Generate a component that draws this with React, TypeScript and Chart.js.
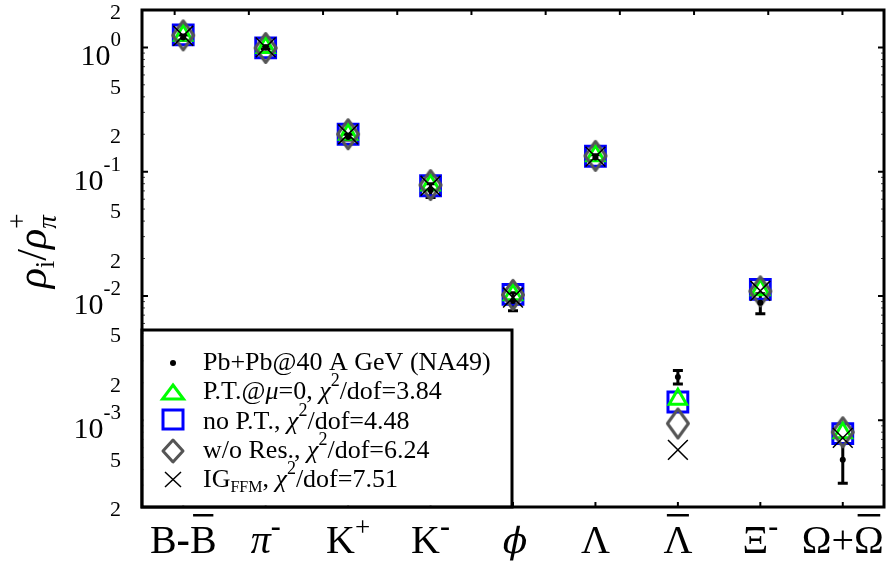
import React, { useEffect, useRef } from 'react';
import { Chart, registerables } from 'chart.js';

Chart.register(...registerables);

// ---- data ----
const CATEGORIES = ['B-B\u0304', '\u03C0\u207B', 'K\u207A', 'K\u207B', '\u03D5', '\u039B', '\u039B\u0304', '\u039E\u207B', '\u03A9+\u03A9\u0304'];
const NA49 = [1.2, 1.0, 0.19, 0.071, 0.0091, 0.13, 0.00223, 0.0088, 0.00048];
const NA49_ERR = [0.06, 0.03, 0.01, 0.009, 0.0015, 0.007, 0.00028, 0.0016, 0.00017];
const PT_MU0 = [1.25, 1.0, 0.2, 0.078, 0.0102, 0.134, 0.00147, 0.0112, 0.00079];
const NO_PT = [1.26, 0.99, 0.2, 0.077, 0.0103, 0.133, 0.0014, 0.0113, 0.00078];
const WO_RES = [1.25, 0.99, 0.2, 0.078, 0.0102, 0.134, 0.00094, 0.0109, 0.0008];
const IG_FFM = [1.24, 1.0, 0.2, 0.077, 0.0097, 0.132, 0.000577, 0.011, 0.00072];

const Y_MIN = 2e-4;
const Y_MAX = 2;
const Y_TICKS = [2e-4, 5e-4, 1e-3, 2e-3, 5e-3, 1e-2, 2e-2, 5e-2, 0.1, 0.2, 0.5, 1, 2];
const TOP_TICKS = [0.44, 1.44, 2.44, 3.44, 4.44, 5.44, 6.44, 7.44, 8.44, 9.44];

type Seg = { t: string; s?: 'i' | 'sup' | 'sub' };
const LEGEND_ROWS: Seg[][] = [
  [{ t: 'Pb+Pb@40 A GeV (NA49)' }],
  [{ t: 'P.T.@' }, { t: '\u03BC', s: 'i' }, { t: '=0, ' }, { t: '\u03C7', s: 'i' }, { t: '2', s: 'sup' }, { t: '/dof=3.84' }],
  [{ t: 'no P.T., ' }, { t: '\u03C7', s: 'i' }, { t: '2', s: 'sup' }, { t: '/dof=4.48' }],
  [{ t: 'w/o Res., ' }, { t: '\u03C7', s: 'i' }, { t: '2', s: 'sup' }, { t: '/dof=6.24' }],
  [{ t: 'IG' }, { t: 'FFM', s: 'sub' }, { t: ', ' }, { t: '\u03C7', s: 'i' }, { t: '2', s: 'sup' }, { t: '/dof=7.51' }],
];

const GREEN = '#00ff00';
const BLUE = '#0000ff';
const GREY = '#555555';
const FONT = '"Liberation Serif", "DejaVu Serif", serif';

function drawRich(ctx: CanvasRenderingContext2D, segs: Seg[], x: number, y: number, size: number): number {
  let cx = x;
  for (const seg of segs) {
    let f = `${size}px ${FONT}`;
    let dy = 0;
    if (seg.s === 'i') f = `italic ${size}px ${FONT}`;
    if (seg.s === 'sup') { f = `${Math.round(size * 0.68)}px ${FONT}`; dy = -size * 0.5; }
    if (seg.s === 'sub') { f = `${Math.round(size * 0.62)}px ${FONT}`; dy = size * 0.22; }
    ctx.font = f;
    ctx.fillText(seg.t, cx, y + dy);
    cx += ctx.measureText(seg.t).width;
  }
  return cx - x;
}

// draw a category label: handles combining macron (overline) and superscript +/-
function drawCatLabel(ctx: CanvasRenderingContext2D, label: string, cx: number, baseline: number) {
  const units: { ch: string; sup: boolean; over: boolean; skew: boolean; font: string; w: number }[] = [];
  const chars = Array.from(label);
  for (let i = 0; i < chars.length; i++) {
    const c = chars[i];
    if (c === '\u0304') { if (units.length) units[units.length - 1].over = true; continue; }
    let ch = c, sup = false;
    if (c === '\u207A') { ch = '+'; sup = true; }
    if (c === '\u207B') { ch = '-'; sup = true; }
    let font = `40px ${FONT}`;
    if (sup) font = ch === '-' ? `bold 30px ${FONT}` : `27px ${FONT}`;
    else if (ch === '\u03C0') font = `italic 40px ${FONT}`;
    else if (ch === '\u03D5') font = `36px "DejaVu Serif", serif`;
    else if (ch === '-') font = `bold 40px ${FONT}`;
    ctx.font = font;
    units.push({ ch, sup, over: false, skew: ch === '\u03D5', font, w: ctx.measureText(ch).width });
  }
  const total = units.reduce((a, u) => a + u.w, 0);
  let x = cx - total / 2;
  ctx.textAlign = 'left';
  ctx.textBaseline = 'alphabetic';
  for (const u of units) {
    ctx.font = u.font;
    const by = u.sup ? baseline - 17 : baseline;
    if (u.skew) {
      ctx.save();
      ctx.translate(x, by);
      ctx.transform(1, 0, -0.2, 1, 0, 0);
      ctx.fillText(u.ch, 0, 0);
      ctx.restore();
    } else {
      ctx.fillText(u.ch, x, by);
    }
    if (u.over) {
      ctx.fillRect(x + u.w * 0.12, baseline - 39, u.w * 0.76, 2.5);
    }
    x += u.w;
  }
}

const framePlugin = {
  id: 'frame',
  beforeDatasetsDraw(chart: any) {
    const ctx: CanvasRenderingContext2D = chart.ctx;
    const x = chart.scales.x;
    const y = chart.scales.y;
    ctx.save();
    ctx.strokeStyle = '#000';
    ctx.lineWidth = 3;
    NA49.forEach((v, i) => {
      const px = x.getPixelForValue(i);
      const lo = y.getPixelForValue(v - NA49_ERR[i]);
      const hi = y.getPixelForValue(v + NA49_ERR[i]);
      ctx.beginPath();
      ctx.moveTo(px, lo); ctx.lineTo(px, hi);
      ctx.moveTo(px - 5, lo); ctx.lineTo(px + 5, lo);
      ctx.moveTo(px - 5, hi); ctx.lineTo(px + 5, hi);
      ctx.stroke();
    });
    ctx.restore();
  },
  afterDraw(chart: any) {
    const ctx: CanvasRenderingContext2D = chart.ctx;
    const { left, right, top, bottom } = chart.chartArea;
    const x = chart.scales.x;
    const xt = chart.scales.xTop;
    const y = chart.scales.y;
    ctx.save();
    // minor ticks (log)
    ctx.strokeStyle = '#444';
    ctx.lineWidth = 1;
    for (let e = -4; e <= 0; e++) {
      for (let m = 2; m <= 9; m++) {
        const v = m * Math.pow(10, e);
        if (v < Y_MIN || v > Y_MAX) continue;
        const py = y.getPixelForValue(v);
        ctx.beginPath();
        ctx.moveTo(left, py); ctx.lineTo(left + 3, py);
        ctx.moveTo(right, py); ctx.lineTo(right - 3, py);
        ctx.stroke();
      }
    }
    ctx.strokeStyle = '#000';
    ctx.lineWidth = 2;
    for (const t of y.ticks) {
      const ex = Math.log10(t.value);
      if (Math.abs(ex - Math.round(ex)) > 1e-6) continue;
      const py = y.getPixelForValue(t.value);
      ctx.beginPath();
      ctx.moveTo(left, py); ctx.lineTo(left + 6, py);
      ctx.moveTo(right, py); ctx.lineTo(right - 6, py);
      ctx.stroke();
    }
    for (let i = 0; i < CATEGORIES.length; i++) {
      const px = x.getPixelForValue(i);
      ctx.beginPath(); ctx.moveTo(px, bottom); ctx.lineTo(px, bottom - 5); ctx.stroke();
    }
    for (const t of xt.ticks) {
      const px = xt.getPixelForValue(t.value);
      ctx.beginPath(); ctx.moveTo(px, top); ctx.lineTo(px, top + 5); ctx.stroke();
    }
    // frame
    ctx.lineWidth = 3;
    ctx.strokeRect(left, top, right - left, bottom - top);

    ctx.fillStyle = '#000';
    // x tick labels
    CATEGORIES.forEach((lab, i) => drawCatLabel(ctx, lab, x.getPixelForValue(i), bottom + 46));

    // y tick labels
    ctx.textBaseline = 'alphabetic';
    ctx.textAlign = 'left';
    for (const t of y.ticks) {
      const py = y.getPixelForValue(t.value);
      const ex = Math.log10(t.value);
      const rx = 121;
      if (Math.abs(ex - Math.round(ex)) < 1e-6) {
        const n = Math.round(ex);
        const exTxt = n === 0 ? '0' : '-' + String(-n);
        ctx.font = `30px ${FONT}`;
        const w1 = ctx.measureText('10').width;
        ctx.font = `21px ${FONT}`;
        const w2 = ctx.measureText(exTxt).width;
        const x0 = rx - w1 - w2;
        ctx.font = `30px ${FONT}`;
        ctx.fillText('10', x0, py + 18);
        ctx.font = `21px ${FONT}`;
        ctx.fillText(exTxt, x0 + w1, py - 1);
      } else {
        const m = Math.round(t.value / Math.pow(10, Math.floor(ex + 1e-9)));
        ctx.font = `22px ${FONT}`;
        ctx.textAlign = 'right';
        ctx.fillText(String(m), rx, py + 9);
        ctx.textAlign = 'left';
      }
    }

    // y axis title  rho_i / rho_pi^+
    ctx.save();
    ctx.translate(46, 251);
    ctx.rotate(-Math.PI / 2);
    const big = 42, small = 27;
    const parts: { t: string; f: string; dy: number; stack?: boolean }[] = [
      { t: '\u03C1', f: `italic ${big}px ${FONT}`, dy: 0 },
      { t: 'i', f: `${small}px ${FONT}`, dy: 8 },
      { t: '/', f: `${big}px ${FONT}`, dy: 0 },
      { t: '\u03C1', f: `italic ${big}px ${FONT}`, dy: 0 },
      { t: '\u03C0', f: `italic ${small}px ${FONT}`, dy: 10, stack: true },
      { t: '+', f: `${small}px ${FONT}`, dy: -20 },
    ];
    let total = 0;
    let prevW = 0;
    for (const p of parts) {
      ctx.font = p.f;
      const w = ctx.measureText(p.t).width;
      if (p.stack) { prevW = w; } else { total += Math.max(w, prevW); prevW = 0; }
    }
    let cx = -total / 2;
    let stackX = 0, stackW = 0;
    for (const p of parts) {
      ctx.font = p.f;
      const w = ctx.measureText(p.t).width;
      if (p.stack) { stackX = cx; stackW = w; ctx.fillText(p.t, cx, p.dy); continue; }
      if (stackW) { ctx.fillText(p.t, stackX, p.dy); cx = stackX + Math.max(w, stackW); stackW = 0; continue; }
      ctx.fillText(p.t, cx, p.dy);
      cx += w;
    }
    ctx.restore();

    // legend
    const lx0 = left, ly0 = 330, lx1 = 512, ly1 = bottom;
    ctx.fillStyle = '#fff';
    ctx.fillRect(lx0 + 1.5, ly0 + 1.5, lx1 - lx0 - 3, ly1 - ly0 - 3);
    ctx.strokeStyle = '#000';
    ctx.lineWidth = 3;
    ctx.strokeRect(lx0, ly0, lx1 - lx0, ly1 - ly0);
    const baselines = [370, 399, 428.5, 457.5, 486.5];
    const mx = 173;
    ctx.fillStyle = '#000';
    ctx.beginPath(); ctx.arc(mx, 363, 3, 0, Math.PI * 2); ctx.fill();
    ctx.strokeStyle = GREEN; ctx.lineWidth = 3; ctx.lineJoin = 'miter';
    ctx.beginPath(); ctx.moveTo(mx, 385); ctx.lineTo(mx + 10.5, 399); ctx.lineTo(mx - 10.5, 399); ctx.closePath(); ctx.stroke();
    ctx.strokeStyle = BLUE;
    ctx.strokeRect(mx - 10, 410, 20, 19);
    ctx.strokeStyle = GREY; ctx.lineJoin = 'round';
    ctx.beginPath(); ctx.moveTo(mx, 440); ctx.lineTo(mx + 10, 451); ctx.lineTo(mx, 462); ctx.lineTo(mx - 10, 451); ctx.closePath(); ctx.stroke();
    ctx.strokeStyle = '#000'; ctx.lineWidth = 1.5;
    ctx.beginPath(); ctx.moveTo(mx - 8, 472); ctx.lineTo(mx + 8, 487); ctx.moveTo(mx + 8, 472); ctx.lineTo(mx - 8, 487); ctx.stroke();
    ctx.fillStyle = '#000';
    LEGEND_ROWS.forEach((row, i) => drawRich(ctx, row, 203, baselines[i], 26));
    ctx.restore();
  },
};

export default function App() {
  const ref = useRef<HTMLCanvasElement>(null);
  useEffect(() => {
    const canvas = ref.current!;
    const diamond = document.createElement('canvas');
    diamond.width = 28; diamond.height = 34;
    const dctx = diamond.getContext('2d')!;
    dctx.strokeStyle = GREY; dctx.lineWidth = 3; dctx.lineJoin = 'round';
    dctx.beginPath(); dctx.moveTo(14, 2.5); dctx.lineTo(24.5, 17); dctx.lineTo(14, 31.5); dctx.lineTo(3.5, 17); dctx.closePath(); dctx.stroke();

    const zeroPad = (s: any) => { s.paddingTop = 0; s.paddingBottom = 0; s.paddingLeft = 0; s.paddingRight = 0; };
    const common = { showLine: false, pointHoverRadius: 0 };
    const chart = new Chart(canvas, {
      type: 'line',
      data: {
        labels: CATEGORIES,
        datasets: [
          { ...common, label: 'Pb+Pb@40 A GeV (NA49)', data: NA49, pointStyle: 'circle', pointRadius: 3, pointBackgroundColor: '#000', pointBorderColor: '#000', pointBorderWidth: 0 },
          { ...common, label: 'IG_FFM', data: IG_FFM, pointStyle: 'crossRot', pointRadius: 14, pointBorderColor: '#000', pointBorderWidth: 1.5 },
          { ...common, label: 'w/o Res.', data: WO_RES, pointStyle: diamond as any, pointRadius: 14 },
          { ...common, label: 'P.T.@mu=0', data: PT_MU0, pointStyle: 'triangle', pointRadius: 10, pointBorderColor: GREEN, pointBackgroundColor: 'rgba(0,0,0,0)', pointBorderWidth: 3 },
          { ...common, label: 'no P.T.', data: NO_PT, pointStyle: 'rect', pointRadius: 14, pointBorderColor: BLUE, pointBackgroundColor: 'rgba(0,0,0,0)', pointBorderWidth: 3 },
        ] as any,
      },
      options: {
        responsive: false,
        animation: false,
        events: [],
        layout: { autoPadding: false, padding: { top: 10, right: 5, left: 0, bottom: 0 } },
        plugins: { legend: { display: false }, tooltip: { enabled: false } },
        scales: {
          x: {
            type: 'category',
            offset: true,
            position: 'bottom',
            grid: { display: false },
            border: { display: false },
            ticks: { display: false },
            afterFit: (s: any) => { s.height = 57; zeroPad(s); },
          },
          xTop: {
            type: 'linear',
            position: 'top',
            min: 0,
            max: 10,
            grid: { display: false },
            border: { display: false },
            ticks: { display: false },
            afterBuildTicks: (s: any) => { s.ticks = TOP_TICKS.map((v) => ({ value: v })); },
            afterFit: (s: any) => { s.height = 0; zeroPad(s); },
          },
          y: {
            type: 'logarithmic',
            min: Y_MIN,
            max: Y_MAX,
            grid: { display: false },
            border: { display: false },
            ticks: { display: false },
            afterBuildTicks: (s: any) => {
              s.ticks = Y_TICKS.map((v) => {
                const e = Math.log10(v);
                return { value: v, major: Math.abs(e - Math.round(e)) < 1e-6 };
              });
            },
            afterFit: (s: any) => { s.width = 142; zeroPad(s); },
          },
        } as any,
      },
      plugins: [framePlugin],
    });
    return () => chart.destroy();
  }, []);
  return (
    <div style={{ position: 'absolute', left: 0, top: 0, width: 889, height: 564, background: '#fff' }}>
      <canvas ref={ref} width={889} height={564} style={{ display: 'block' }} />
    </div>
  );
}
